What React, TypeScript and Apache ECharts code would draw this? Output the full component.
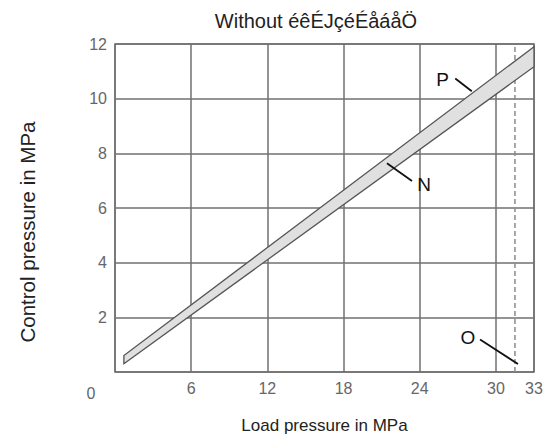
import React, { useEffect, useRef } from 'react';
import * as echarts from 'echarts';

// Band end points (x = load pressure, MPa; y = control pressure, MPa)
const loadPressure = [0.7, 33];
const controlP = [0.6, 11.9]; // upper line "P"
const controlN = [0.3, 11.17]; // lower line "N"
const limitO = 31.5; // dashed limit line "O"

const titleText = 'Without éêÉJçéÉåáåÖ';
const xAxisTitle = 'Load pressure in MPa';
const yAxisTitle = 'Control pressure in MPa';

// annotation labels with leader lines (data coordinates)
const annLabels = ['P', 'N', 'O'];
const annTextPos = [[25.8, 10.7], [24.35, 6.85], [27.8, 1.26]];
const annLineFrom = [[26.8, 10.74], [21.42, 7.64], [28.75, 1.19]];
const annLineTo = [[28.1, 10.27], [23.39, 6.99], [31.74, 0.29]];

const sans = "'Liberation Sans', Arial, sans-serif";

export default function App() {
  const ref = useRef<HTMLDivElement>(null);
  useEffect(() => {
    if (!ref.current) return;
    const chart = echarts.init(ref.current, null, { renderer: 'svg' });
    const option: any = {
      animation: false,
      backgroundColor: '#ffffff',
      title: {
        text: titleText,
        left: 311,
        top: 6,
        textAlign: 'center',
        textStyle: { fontFamily: sans, fontSize: 20, fontWeight: 'normal', color: '#222' },
      },
      grid: {
        left: 115, right: 13, top: 44, bottom: 62,
        show: true, borderColor: '#707070', borderWidth: 1.5, backgroundColor: 'transparent',
      },
      xAxis: {
        type: 'value', min: 0, max: 33, interval: 6,
        axisLine: { show: false }, axisTick: { show: false },
        splitLine: { show: true, lineStyle: { color: '#707070', width: 1.5 } },
        axisLabel: {
          margin: 8, color: '#666', fontFamily: sans, fontSize: 16,
          showMaxLabel: true,
          formatter: (v: number) => (v === 0 ? '' : String(v)),
        },
        name: xAxisTitle, nameLocation: 'middle', nameGap: 45,
        nameTextStyle: { fontFamily: sans, fontSize: 17, color: '#222' },
      },
      yAxis: {
        type: 'value', min: 0, max: 12, interval: 2,
        axisLine: { show: false }, axisTick: { show: false },
        splitLine: { show: true, lineStyle: { color: '#707070', width: 1.5 } },
        axisLabel: {
          margin: 8, color: '#666', fontFamily: sans, fontSize: 16,
          formatter: (v: number) => (v === 0 ? '' : String(v)),
        },
      },
      graphic: [
        {
          type: 'text', x: 91, y: 393,
          style: { text: '0', fill: '#666', font: "16px 'Liberation Sans'", textAlign: 'center', textVerticalAlign: 'middle' },
        },
        {
          type: 'text', x: 27, y: 232, rotation: Math.PI / 2,
          style: { text: yAxisTitle, fill: '#222', font: `20.5px ${sans}`, textAlign: 'center', textVerticalAlign: 'middle' },
        },
      ],
      series: [
        {
          type: 'custom',
          data: [[0]],
          renderItem: (params: any, api: any) => {
            const pts = [
              api.coord([loadPressure[0], controlN[0]]),
              api.coord([loadPressure[1], controlN[1]]),
              api.coord([loadPressure[1], controlP[1]]),
              api.coord([loadPressure[0], controlP[0]]),
            ];
            return {
              type: 'polygon',
              shape: { points: pts },
              style: { fill: '#e0e0e0', stroke: '#555', lineWidth: 1.3 },
            };
          },
          z: 3,
        },
        {
          type: 'line',
          data: [[limitO, 0], [limitO, 12]],
          symbol: 'none',
          lineStyle: { color: '#8a8a8a', width: 1.5, type: [5, 3] },
          z: 2,
        },
        {
          type: 'custom',
          data: annLabels.map((_, i) => [i]),
          renderItem: (params: any, api: any) => {
            const i = params.dataIndex;
            const t = api.coord(annTextPos[i]);
            const a = api.coord(annLineFrom[i]);
            const b = api.coord(annLineTo[i]);
            return {
              type: 'group',
              children: [
                {
                  type: 'text',
                  x: t[0], y: t[1],
                  style: { text: annLabels[i], fill: '#111', font: `19px ${sans}`, textAlign: 'center', textVerticalAlign: 'middle' },
                },
                {
                  type: 'line',
                  shape: { x1: a[0], y1: a[1], x2: b[0], y2: b[1] },
                  style: { stroke: '#111', lineWidth: 1.8 },
                },
              ],
            };
          },
          z: 5,
        },
      ],
    };
    chart.setOption(option);
    return () => chart.dispose();
  }, []);
  return <div ref={ref} style={{ width: 547, height: 439, position: 'absolute', left: 0, top: 0 }} />;
}
